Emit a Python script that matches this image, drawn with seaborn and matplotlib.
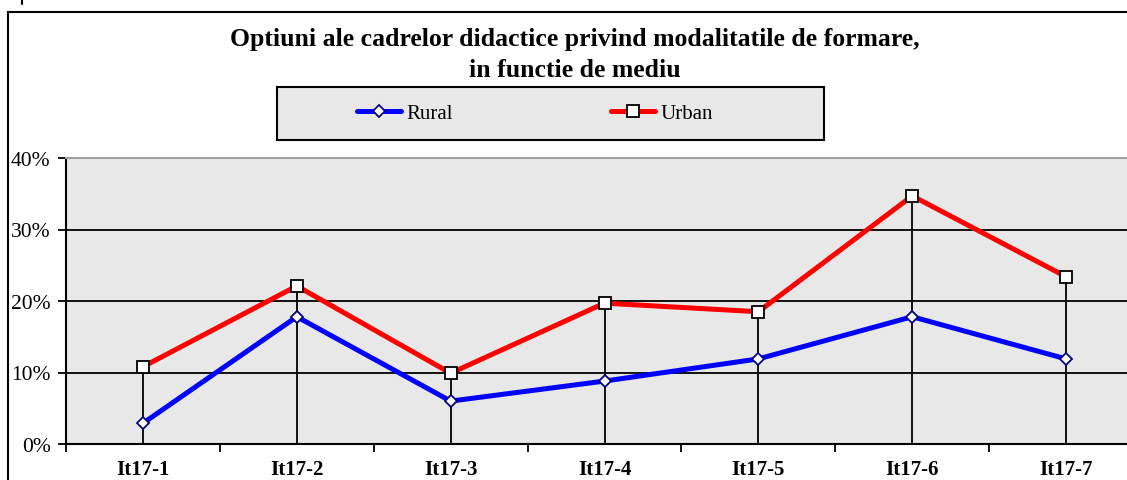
import matplotlib
matplotlib.use("Agg")
import matplotlib.pyplot as plt
import numpy as np
import pandas as pd
import seaborn as sns
from matplotlib.lines import Line2D
from matplotlib.patches import Rectangle

categories = ["It17-1", "It17-2", "It17-3", "It17-4", "It17-5", "It17-6", "It17-7"]
rural = [2.9, 17.8, 6.0, 8.8, 11.9, 17.8, 11.9]
urban = [10.8, 22.1, 9.9, 19.7, 18.5, 34.7, 23.4]
y_ticks = [0, 10, 20, 30, 40]
y_tick_labels = ["0%", "10%", "20%", "30%", "40%"]
title = "Optiuni ale cadrelor didactice privind modalitatile de formare,\nin functie de mediu"

df = pd.DataFrame({
    "Item": categories * 2,
    "Procent": rural + urban,
    "Mediu": ["Rural"] * len(rural) + ["Urban"] * len(urban),
})

sns.set_theme(style="white")
plt.rcParams["font.family"] = ["Liberation Serif", "DejaVu Serif"]
plt.rcParams["text.color"] = "black"
plt.rcParams["xtick.color"] = "black"
plt.rcParams["ytick.color"] = "black"

W, H = 1127, 481
fig = plt.figure(figsize=(W / 100, H / 100), dpi=100)
fig.patch.set_facecolor("white")

# outer chart frame (cropped on the right and bottom)
fig.add_artist(Rectangle((8 / W, -0.2), 1.2, 1 - 13 / H + 0.2, transform=fig.transFigure,
                         fill=False, edgecolor="black", linewidth=1.5, clip_on=False))
fig.add_artist(Line2D([22 / W, 22 / W], [1 - 5 / H, 1.0], transform=fig.transFigure,
                      color="black", linewidth=1.5))

ax = fig.add_axes([66 / W, (H - 445) / H, (1143 - 66) / W, (445 - 159) / H])
ax.set_facecolor("#e8e8e8")

# horizontal gridlines
for v in y_ticks[1:-1]:
    ax.axhline(v, color="black", linewidth=1.3, zorder=1)

# drop lines from the highest point of each category
ax.vlines(categories, 0, np.maximum(rural, urban), color="black", linewidth=1.3, zorder=2)

sns.lineplot(
    data=df, x="Item", y="Procent", hue="Mediu", style="Mediu",
    palette={"Rural": "#0000ff", "Urban": "#ff0000"},
    markers={"Rural": "D", "Urban": "s"}, dashes=False,
    linewidth=3.6, ax=ax, legend=False, zorder=3,
)
for line, ms, mec in zip(ax.lines[-2:], [6.5, 8], ["#000080", "black"]):
    line.set_markerfacecolor("white")
    line.set_markeredgecolor(mec)
    line.set_markeredgewidth(1.3)
    line.set_markersize(ms)

ax.set_xlim(-0.5, len(categories) - 0.5)
ax.set_ylim(0, 40)
ax.set_yticks(y_ticks)
ax.set_yticklabels(y_tick_labels, fontsize=15.5)
ax.set_xticks(range(len(categories)))
ax.set_xticklabels(categories, fontsize=15, fontweight="bold")
ax.set_xticks(np.arange(-0.5, len(categories), 1.0), minor=True)
ax.tick_params(axis="x", which="major", length=0, pad=10.5)
ax.tick_params(axis="x", which="minor", length=6, width=1.3, color="black", direction="out", bottom=True)
ax.tick_params(axis="y", length=6, width=1.3, color="black", direction="out", left=True, pad=5)
ax.set_xlabel("")
ax.set_ylabel("")

ax.spines["left"].set_color("black")
ax.spines["left"].set_linewidth(1.5)
ax.spines["bottom"].set_color("black")
ax.spines["bottom"].set_linewidth(1.5)
ax.spines["top"].set_color("#a0a0a0")
ax.spines["top"].set_linewidth(1.5)
ax.spines["right"].set_visible(False)

fig.text(575 / W, 1 - 55 / H, title, ha="center", va="center", fontsize=18.5,
         fontweight="bold", linespacing=1.4, color="black")

# legend box
fig.add_artist(Rectangle((277 / W, 1 - 141 / H), (824 - 277) / W, (141 - 88) / H,
                         transform=fig.transFigure, facecolor="#e8e8e8",
                         edgecolor="black", linewidth=1.5))
handles = [
    Line2D([], [], color="#0000ff", linewidth=3.6, marker="D", markersize=6.5,
           markerfacecolor="white", markeredgecolor="#000080", markeredgewidth=1.3),
    Line2D([], [], color="#ff0000", linewidth=3.6, marker="s", markersize=8,
           markerfacecolor="white", markeredgecolor="black", markeredgewidth=1.3),
]
leg = fig.legend(handles, ["Rural", "Urban"], loc="center",
                 bbox_to_anchor=(535 / W, 1 - 114.5 / H), ncol=2, frameon=False,
                 fontsize=15, handlelength=2.1, handletextpad=0.25, columnspacing=7.6,
                 labelcolor="black")

fig.savefig("out.png", dpi=100, facecolor="white")
